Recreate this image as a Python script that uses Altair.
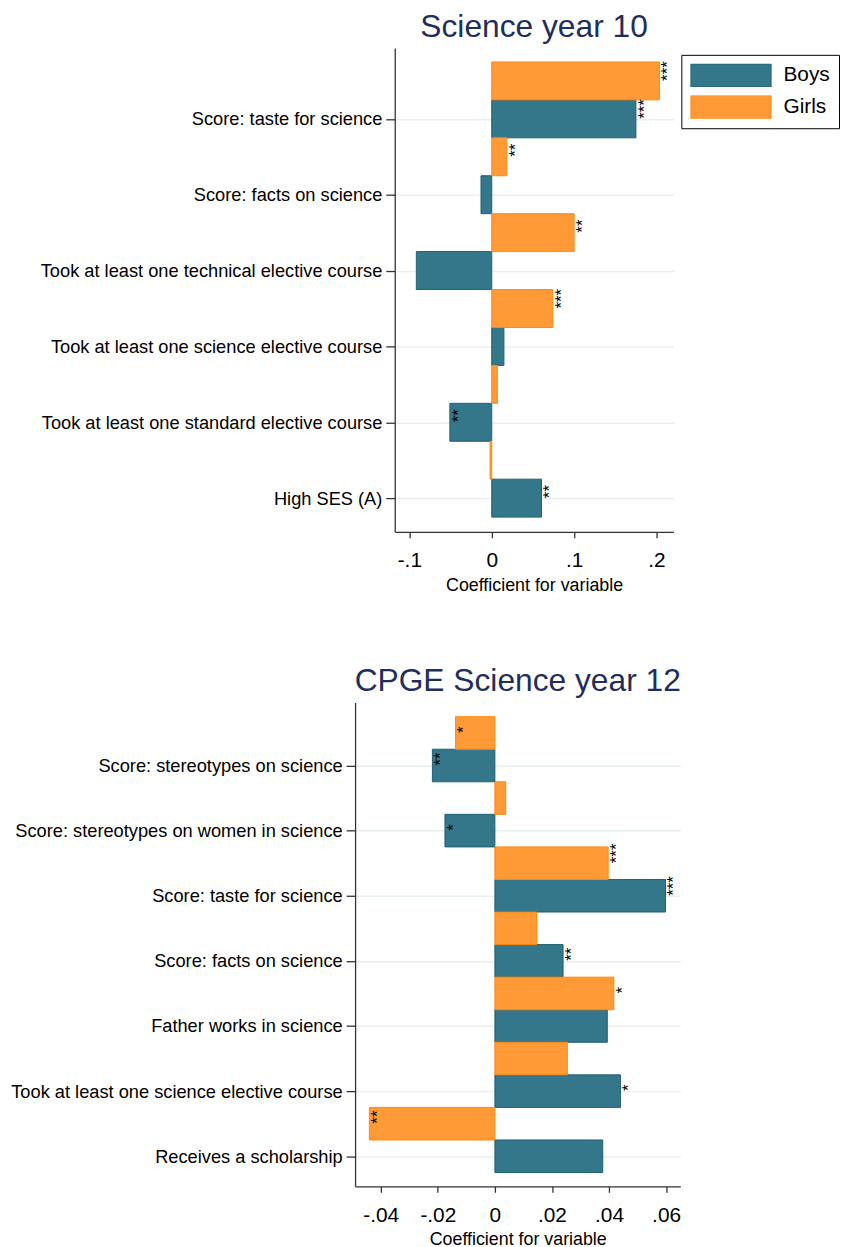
import altair as alt
import pandas as pd

FONT = "Liberation Sans"

# ---------------- data: Science year 10 ----------------
top_labels = [
    "Score: taste for science",
    "Score: facts on science",
    "Took at least one technical elective course",
    "Took at least one science elective course",
    "Took at least one standard elective course",
    "High SES (A)",
]
top_boys = [0.175, -0.013, -0.0915, 0.0148, -0.0508, 0.0604]
top_girls = [0.2037, 0.0184, 0.100, 0.074, 0.0068, -0.002]
top_boys_sig = ["***", "", "", "", "**", "**"]
top_girls_sig = ["***", "**", "**", "***", "", ""]
top_xticks = [-0.1, 0, 0.1, 0.2]

# ---------------- data: CPGE Science year 12 ----------------
bot_labels = [
    "Score: stereotypes on science",
    "Score: stereotypes on women in science",
    "Score: taste for science",
    "Score: facts on science",
    "Father works in science",
    "Took at least one science elective course",
    "Receives a scholarship",
]
bot_boys = [-0.0219, -0.0175, 0.0598, 0.0239, 0.0394, 0.0440, 0.0378]
bot_girls = [-0.0138, 0.0038, 0.0397, 0.0146, 0.0417, 0.0254, -0.0440]
bot_boys_sig = ["**", "*", "***", "**", "", "*", ""]
bot_girls_sig = ["*", "", "***", "", "*", "", "**"]
bot_xticks = [-0.04, -0.02, 0, 0.02, 0.04, 0.06]

groups = ["Boys", "Girls"]
BOYS_FILL, BOYS_STROKE = "#34768A", "#1F6072"
GIRLS_FILL, GIRLS_STROKE = "#FF9A36", "#FF8A10"


def make_frame(labels, boys, girls, boys_sig, girls_sig):
    rows = []
    n = len(labels)
    for i, lab in enumerate(labels):
        k = n - 1 - i
        rows.append(dict(group=groups[0], label=lab, value=boys[i],
                         y0=k - 0.25, y1=k + 0.25, yc=k, sig=boys_sig[i]))
        rows.append(dict(group=groups[1], label=lab, value=girls[i],
                         y0=k + 0.25, y1=k + 0.75, yc=k + 0.5, sig=girls_sig[i]))
    return pd.DataFrame(rows)


def panel(labels, boys, girls, boys_sig, girls_sig, title, xticks, xdomain,
          xrange, width, ydomain, height, yoffset, title_dx, lx, ly,
          sym_w, sym_h, label_offset):
    df = make_frame(labels, boys, girls, boys_sig, girls_sig)
    n = len(labels)
    label_js = "[" + ",".join("'" + l + "'" for l in reversed(labels)) + "]"

    xaxis = alt.Axis(
        values=xticks,
        labelExpr="replace(replace(format(datum.value, '.2~f'), '0.', '.'), '\u2212', '-')",
        title="Coefficient for variable", grid=False, tickSize=6,
        labelFontSize=21, labelPadding=12, labelFlush=False, labelColor="black",
        titleFontSize=18, titleFontWeight="normal", titlePadding=6,
        titleColor="black", domainColor="#333333", tickColor="#333333",
        domainWidth=1.3, tickWidth=1.3, labelFont=FONT, titleFont=FONT,
    )
    yaxis = alt.Axis(
        values=list(range(n)), labelExpr=label_js + "[datum.value]",
        title=None, grid=True, gridColor="#E8EFF2", gridWidth=1.5,
        tickSize=9, labelFontSize=18.4, labelPadding=4, labelColor="black",
        labelLimit=0, domainColor="#333333", tickColor="#333333",
        domainWidth=1.3, tickWidth=1.3, offset=yoffset, labelFont=FONT,
        labelOverlap=False,
    )
    xscale = alt.Scale(domain=xdomain, range=xrange, nice=False, zero=False)
    yscale = alt.Scale(domain=ydomain, nice=False, zero=False)

    half = sym_h / sym_w
    path = f"M-1,-{half:.4f}L1,-{half:.4f}L1,{half:.4f}L-1,{half:.4f}Z"
    legend = alt.Legend(
        title=None, orient="none", legendX=lx, legendY=ly,
        strokeColor="black", fillColor="white", padding=9,
        symbolType=path, symbolSize=sym_w * sym_w, clipHeight=sym_h,
        rowPadding=8, labelFontSize=21, labelOffset=label_offset,
        symbolStrokeWidth=1, labelFont=FONT, labelColor="black",
    )

    bars = alt.Chart(df).mark_bar(strokeWidth=1).encode(
        x=alt.X("value:Q", scale=xscale, axis=xaxis),
        x2=alt.datum(0),
        y=alt.Y("y0:Q", scale=yscale, axis=yaxis),
        y2="y1:Q",
        fill=alt.Fill("group:N", scale=alt.Scale(domain=groups, range=[BOYS_FILL, GIRLS_FILL]), legend=legend),
        stroke=alt.Stroke("group:N", scale=alt.Scale(domain=groups, range=[BOYS_STROKE, GIRLS_STROKE]), legend=legend),
    )
    stars = alt.Chart(df[df["sig"] != ""]).mark_text(
        angle=270, align="left", baseline="middle", dy=9, dx=0,
        fontSize=17, font=FONT, color="black",
    ).encode(
        x=alt.X("value:Q", scale=xscale, axis=xaxis),
        y=alt.Y("yc:Q", scale=yscale, axis=yaxis),
        text="sig:N",
    )
    return alt.layer(bars, stars).properties(
        width=width, height=height,
        title=alt.Title(title, fontSize=32, font=FONT, color="#1F2E5C",
                        fontWeight="normal", anchor="middle", frame="group",
                        offset=-21, baseline="alphabetic", dx=title_dx),
    )


top = panel(top_labels, top_boys, top_girls, top_boys_sig, top_girls_sig,
            "Science year 10", top_xticks, [-0.1177, 0.2205], [40, 321], 321,
            [-0.444, 5.935], 488, -40, 20, 329, 7, 81, 23.5, 12)

bottom = panel(bot_labels, bot_boys, bot_girls, bot_boys_sig, bot_girls_sig,
               "CPGE Science year 12", bot_xticks, [-0.049, 0.065], [0, 328], 328,
               [-0.462, 6.969], 488, 0, 0, 333, 7.6, 77, 23.7, 12)

chart = alt.vconcat(top, bottom, spacing=72).properties(
    padding={"left": 2, "top": -2, "right": 0, "bottom": 0}
).configure(
    font=FONT,
    view=alt.ViewConfig(stroke="transparent", strokeWidth=0),
)

chart.save("out.html", embed_options={"renderer": "svg", "actions": False})
